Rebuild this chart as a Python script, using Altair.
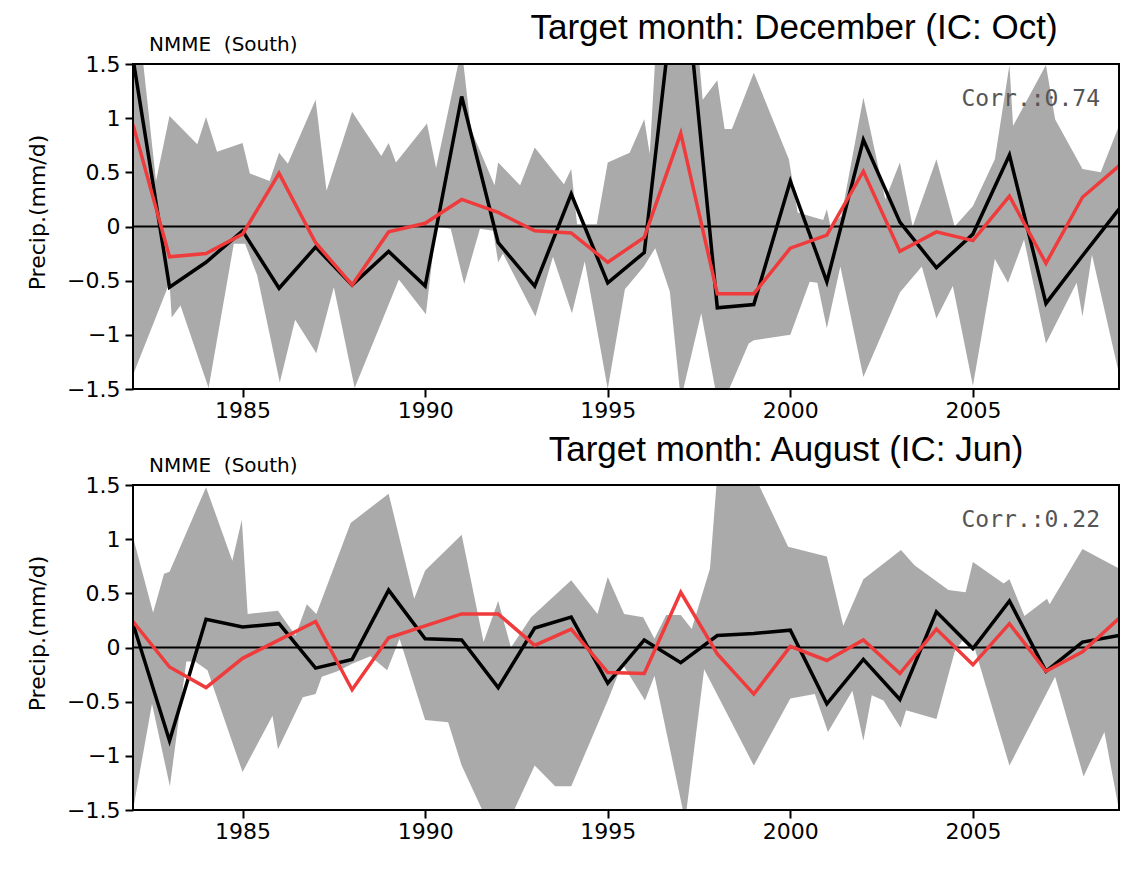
import altair as alt
import pandas as pd

years = list(range(1982, 2010))
x_ticks = [1985, 1990, 1995, 2000, 2005]
y_ticks = [-1.5, -1, -0.5, 0, 0.5, 1, 1.5]

# ---- Target month: December (IC: Oct) ----
dec_obs = [1.55, -0.56, -0.33, -0.04, -0.57, -0.19, -0.54, -0.23, -0.55, 1.20,
           -0.15, -0.55, 0.30, -0.52, -0.24, 2.70, -0.75, -0.72, 0.42, -0.51,
           0.80, 0.04, -0.38, -0.07, 0.66, -0.71, -0.27, 0.16]
dec_nmme = [0.94, -0.28, -0.25, -0.07, 0.49, -0.15, -0.54, -0.05, 0.03, 0.25,
            0.13, -0.04, -0.06, -0.33, -0.10, 0.86, -0.62, -0.62, -0.20, -0.08,
            0.51, -0.23, -0.05, -0.13, 0.28, -0.34, 0.27, 0.56]
dec_up_x = [1982.0, 1982.25, 1982.63, 1983.0, 1983.76, 1984.0, 1984.3, 1985.0, 1985.2, 1985.74,
            1986.0, 1986.24, 1987.0, 1987.3, 1988.0, 1988.8, 1989.0, 1989.2, 1990.05, 1990.3,
            1991.0, 1991.25, 1991.9, 1992.0, 1992.6, 1993.0, 1993.8, 1994.0, 1994.16, 1994.7,
            1995.0, 1995.6, 1996.0, 1996.15, 1996.3, 1997.0, 1997.5, 1997.6, 1998.0, 1998.2,
            1998.4, 1999.0, 1999.96, 2000.2, 2000.9, 2001.0, 2001.1, 2001.4, 2002.0, 2002.6,
            2003.0, 2003.35, 2004.0, 2004.5, 2005.0, 2005.6, 2006.0, 2006.1, 2007.0, 2007.25,
            2008.0, 2008.5, 2009.0]
dec_up_y = [1.90, 1.60, 0.42, 1.02, 0.76, 1.01, 0.69, 0.77, 0.49, 0.42,
            0.68, 0.58, 1.17, 0.33, 1.06, 0.65, 0.77, 0.59, 0.95, 0.54,
            1.65, 0.90, 0.38, 0.59, 0.38, 0.73, 0.39, 0.53, 0.02, 0.02,
            0.59, 0.68, 0.99, 0.67, 1.55, 2.00, 1.55, 1.17, 1.35, 0.90,
            0.90, 1.42, 0.62, 0.13, 0.06, 0.16, 0.00, 0.10, 1.19, 0.25,
            0.59, 0.00, 0.62, 0.00, 0.19, 0.62, 1.49, 0.93, 1.49, 0.99,
            0.53, 0.50, 0.93]
dec_lo_x = [1982.0, 1983.0, 1983.06, 1983.3, 1984.07, 1984.76, 1985.07, 1985.4, 1986.02, 1986.44,
            1987.02, 1987.5, 1988.07, 1989.28, 1990.02, 1990.3, 1990.7, 1991.07, 1991.5, 1991.86,
            1992.0, 1992.13, 1993.02, 1993.5, 1994.02, 1994.37, 1995.0, 1995.47, 1995.99, 1996.3,
            1996.7, 1997.0, 1997.56, 1998.0, 1998.2, 1998.86, 1999.0, 2000.0, 2000.53, 2000.74,
            2001.0, 2001.37, 2002.0, 2003.0, 2003.6, 2004.0, 2004.45, 2005.0, 2005.6, 2005.96,
            2006.4, 2007.0, 2007.84, 2008.0, 2008.26, 2009.0]
dec_lo_y = [-1.37, -0.52, -0.84, -0.73, -1.49, -0.16, -0.16, -0.45, -1.44, -0.86,
            -1.17, -0.56, -1.49, -0.49, -0.81, 0.00, -0.02, -0.53, -0.02, -0.04,
            -0.33, -0.25, -0.83, -0.28, -0.80, -0.32, -1.50, -0.58, -0.37, -0.20,
            -0.60, -1.60, -0.80, -1.60, -1.60, -1.08, -1.05, -1.00, -0.51, -0.52,
            -0.94, -0.37, -1.39, -0.61, -0.37, -0.85, -0.55, -1.47, -0.30, -0.52,
            -0.12, -1.08, -0.52, -0.83, -0.26, -1.36]

# ---- Target month: August (IC: Jun) ----
aug_obs = [0.22, -0.86, 0.26, 0.19, 0.22, -0.19, -0.11, 0.53, 0.08, 0.07,
           -0.37, 0.18, 0.28, -0.33, 0.07, -0.14, 0.11, 0.13, 0.16, -0.52,
           -0.11, -0.48, 0.33, -0.01, 0.43, -0.22, 0.05, 0.11]
aug_nmme = [0.24, -0.18, -0.37, -0.10, 0.07, 0.24, -0.39, 0.09, 0.20, 0.31,
            0.31, 0.02, 0.17, -0.23, -0.24, 0.51, -0.06, -0.43, 0.01, -0.12,
            0.07, -0.24, 0.17, -0.16, 0.22, -0.22, -0.04, 0.27]
aug_up_x = [1982.0, 1982.55, 1982.85, 1983.0, 1984.0, 1984.72, 1984.98, 1985.14, 1985.97, 1986.45,
            1986.76, 1987.02, 1987.96, 1989.0, 1989.7, 1990.0, 1991.0, 1991.6, 1992.0, 1992.35,
            1992.9, 1994.0, 1994.72, 1995.0, 1995.45, 1995.97, 1996.28, 1996.6, 1997.0, 1997.3,
            1997.8, 1998.0, 1999.0, 1999.94, 2001.0, 2001.45, 2002.0, 2003.03, 2003.4, 2004.33,
            2004.8, 2005.0, 2005.84, 2006.0, 2006.41, 2007.03, 2007.1, 2008.0, 2009.0]
aug_up_y = [1.02, 0.32, 0.68, 0.70, 1.48, 0.80, 1.18, 0.31, 0.34, 0.11,
            0.40, 0.31, 1.15, 1.42, 0.45, 0.71, 1.04, 0.05, 0.43, 0.00,
            0.28, 0.62, 0.31, 0.65, 0.31, 0.28, 0.08, 0.30, 0.30, 0.17,
            0.73, 1.60, 1.60, 0.93, 0.84, 0.20, 0.63, 0.90, 0.76, 0.53,
            0.51, 0.79, 0.59, 0.63, 0.29, 0.45, 0.40, 0.91, 0.73]
aug_lo_x = [1982.0, 1982.52, 1983.01, 1983.46, 1983.7, 1984.04, 1985.0, 1985.82, 1985.97, 1986.65,
            1987.0, 1987.17, 1987.6, 1988.0, 1988.5, 1988.96, 1989.3, 1990.0, 1990.63, 1991.0,
            1991.7, 1992.3, 1993.0, 1993.56, 1994.0, 1995.0, 1995.4, 1996.02, 1996.28, 1997.12,
            1997.64, 1999.0, 2000.0, 2000.67, 2001.03, 2001.7, 2002.0, 2002.23, 2002.55, 2003.02,
            2003.17, 2004.0, 2004.5, 2004.7, 2005.05, 2006.0, 2007.25, 2008.03, 2008.6, 2009.0]
aug_lo_y = [-1.50, -0.52, -1.28, -0.13, -0.13, -0.21, -1.15, -0.63, -0.94, -0.46,
            -0.43, -0.27, -0.22, -0.15, -0.08, -0.21, 0.08, -0.67, -0.69, -1.09,
            -1.60, -1.60, -1.09, -1.28, -1.28, -0.49, -0.15, -0.49, -0.26, -1.60,
            -0.20, -1.09, -0.47, -0.43, -0.78, -0.40, -0.86, -0.44, -0.49, -0.74,
            -0.58, -0.66, -0.04, 0.06, -0.01, -1.09, -0.27, -1.19, -0.78, -1.50]

W, H = 986, 325
GRAY = "#aaaaaa"
RED = "#ef3b3b"


def panel(title, title_x, title_y, corr, obs, nmme, ux, uy, lx, ly):
    xenc = alt.X("year:Q",
                 scale=alt.Scale(domain=[1982, 2009], nice=False, zero=False),
                 axis=alt.Axis(values=x_ticks, format="d", title=None, grid=False,
                               domain=False, tickSize=8, tickWidth=2, tickColor="black",
                               labelFont="DejaVu Sans", labelFontSize=22, labelColor="black",
                               labelPadding=3, labelFlush=False))
    yenc = alt.Y("v:Q",
                 scale=alt.Scale(domain=[-1.5, 1.5], nice=False, zero=False),
                 axis=alt.Axis(values=y_ticks, format="~g", title="Precip.(mm/d)", grid=False,
                               domain=False, tickSize=8, tickWidth=2, tickColor="black",
                               labelFont="DejaVu Sans", labelFontSize=22, labelColor="black",
                               labelPadding=5, labelFlush=False,
                               titleFont="DejaVu Sans", titleFontSize=22, titleFontWeight="normal",
                               titleColor="black", titleX=-84, titleY=148))
    up = pd.DataFrame({"year": ux, "v": uy})
    lo = pd.DataFrame({"year": lx, "v": ly})
    ob = pd.DataFrame({"year": years, "v": obs})
    nm = pd.DataFrame({"year": years, "v": nmme})
    one = pd.DataFrame({"t": [title], "c": [corr], "n": ["NMME\u00a0\u00a0(South)"]})

    band_up = alt.Chart(up).mark_area(color=GRAY, opacity=1, clip=True).encode(
        x=xenc, y=yenc, y2=alt.datum(-1.5))
    band_lo = alt.Chart(lo).mark_area(color="white", opacity=1, clip=True).encode(
        x="year:Q", y="v:Q", y2=alt.datum(-1.5))
    zero = alt.Chart(pd.DataFrame({"v": [0]})).mark_rule(color="black", strokeWidth=2).encode(
        y="v:Q")
    l_obs = alt.Chart(ob).mark_line(color="black", strokeWidth=3.5, clip=True).encode(
        x="year:Q", y="v:Q")
    l_nm = alt.Chart(nm).mark_line(color=RED, strokeWidth=3.5, clip=True).encode(
        x="year:Q", y="v:Q")
    frame = alt.Chart(pd.DataFrame({"a": [0]})).mark_rect(
        filled=False, stroke="black", strokeWidth=2).encode(
        x=alt.datum(1982), x2=alt.datum(2009), y=alt.datum(-1.5), y2=alt.datum(1.5))
    t_corr = alt.Chart(one).mark_text(font="DejaVu Sans Mono", fontSize=23, color="#555555",
                                      align="right", baseline="middle").encode(
        text="c:N", x=alt.value(W - 19), y=alt.value(35))
    t_nmme = alt.Chart(one).mark_text(font="DejaVu Sans", fontSize=20, color="black",
                                      align="left", baseline="middle").encode(
        text="n:N", x=alt.value(16), y=alt.value(-19))
    t_title = alt.Chart(one).mark_text(font="Liberation Sans", fontSize=35, color="black",
                                       align="center", baseline="middle").encode(
        text="t:N", x=alt.value(title_x), y=alt.value(title_y))
    return alt.layer(band_up, band_lo, zero, l_obs, l_nm, frame, t_corr, t_nmme, t_title).properties(
        width=W, height=H)


top = panel("Target month: December (IC: Oct)", 661, -36, "Corr.:0.74",
            dec_obs, dec_nmme, dec_up_x, dec_up_y, dec_lo_x, dec_lo_y)
bottom = panel("Target month: August (IC: Jun)", 653, -35, "Corr.:0.22",
               aug_obs, aug_nmme, aug_up_x, aug_up_y, aug_lo_x, aug_lo_y)

chart = alt.vconcat(top, bottom, spacing=12).properties(
    padding={"left": 17, "top": 3, "right": 5, "bottom": 5}
).configure_view(stroke=None)

chart.save("out.html", embed_options={"renderer": "svg", "actions": False})
